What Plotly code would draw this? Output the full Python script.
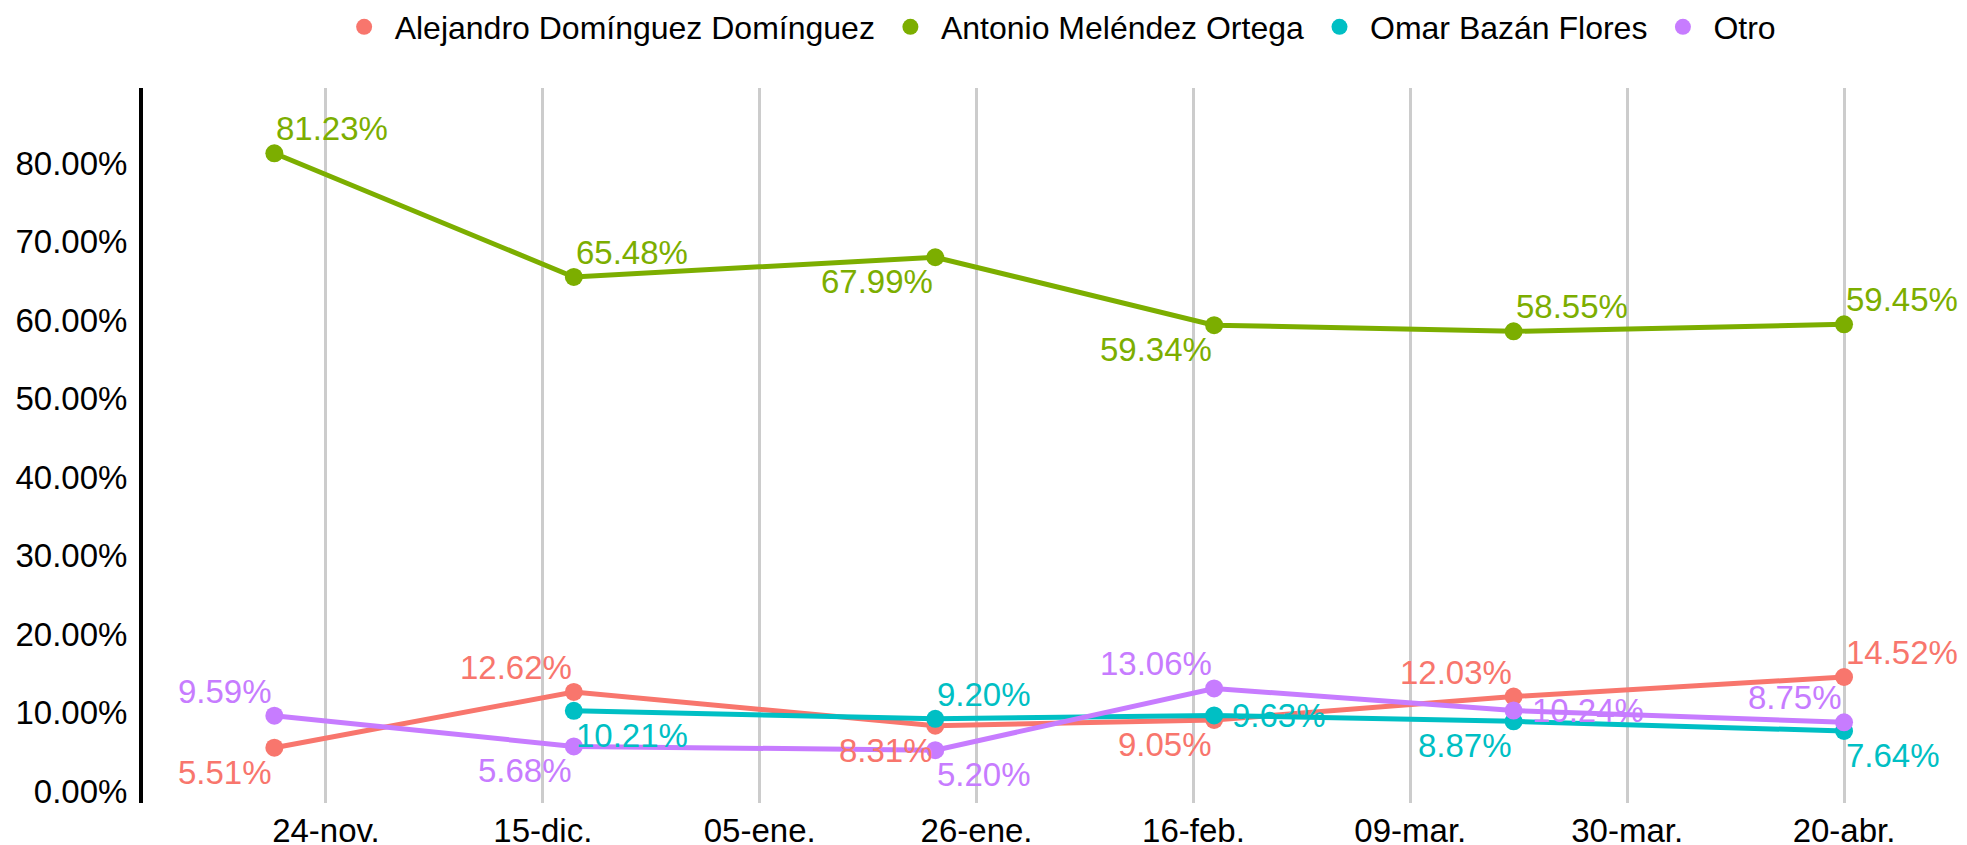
import plotly.graph_objects as go

# ---- data ----
dates = ["2022-11-19", "2022-12-18", "2023-01-22", "2023-02-18", "2023-03-19", "2023-04-20"]
series_names = ["Alejandro Domínguez Domínguez", "Antonio Meléndez Ortega", "Omar Bazán Flores", "Otro"]
alejandro = [5.51, 12.62, 8.31, 9.05, 12.03, 14.52]
antonio = [81.23, 65.48, 67.99, 59.34, 58.55, 59.45]
omar = [None, 10.21, 9.20, 9.63, 8.87, 7.64]
otro = [9.59, 5.68, 5.20, 13.06, 10.24, 8.75]
tick_dates = ["2022-11-24", "2022-12-15", "2023-01-05", "2023-01-26", "2023-02-16", "2023-03-09", "2023-03-30", "2023-04-20"]
tick_labels = ["24-nov.", "15-dic.", "05-ene.", "26-ene.", "16-feb.", "09-mar.", "30-mar.", "20-abr."]
y_tickvals = [0, 0.1, 0.2, 0.3, 0.4, 0.5, 0.6, 0.7, 0.8]

# label placement per point
positions = [
    ["bottom left", "top left", "bottom left", "bottom left", "top left", "top right"],
    ["top right", "top right", "bottom left", "bottom left", "top right", "top right"],
    ["middle right", "bottom right", "top right", "middle right", "bottom left", "bottom right"],
    ["top left", "bottom left", "bottom right", "top left", "middle right", "top left"],
]
colors = ["#F8766D", "#7CAE00", "#00BFC4", "#C77CFF"]
all_values = [alejandro, antonio, omar, otro]

FONT = "Liberation Sans, Arial, sans-serif"
LABEL_SIZE = 33

fig = go.Figure()
# lines + points
for name, vals, col in zip(series_names, all_values, colors):
    yv = [None if v is None else v / 100 for v in vals]
    fig.add_trace(go.Scatter(
        x=dates, y=yv, mode="lines+markers", name=name,
        line=dict(color=col, width=5),
        marker=dict(color=col, size=18),
        showlegend=False, hoverinfo="skip",
    ))
# legend-only entries (circle symbols, like the reference)
for name, col in zip(series_names, colors):
    fig.add_trace(go.Scatter(
        x=[None], y=[None], mode="markers", name=name,
        marker=dict(color=col, size=16), showlegend=True,
    ))

# value labels anchored at the data points
for vals, col, pos in zip(all_values, colors, positions):
    for d, v, p in zip(dates, vals, pos):
        if v is None:
            continue
        vert, horiz = p.split()
        yanchor = {"top": "bottom", "bottom": "top", "middle": "middle"}[vert]
        xanchor = {"right": "left", "left": "right"}[horiz]
        xshift = 16 if vert == "middle" else 0
        yshift = {"top": 4, "bottom": -4, "middle": 0}[vert]
        fig.add_annotation(
            x=d, y=v / 100, xref="x", yref="y", text=f"{v:.2f}%",
            showarrow=False, xanchor=xanchor, yanchor=yanchor,
            xshift=xshift, yshift=yshift,
            font=dict(color=col, size=LABEL_SIZE, family=FONT),
        )

fig.update_layout(
    width=1967, height=845,
    margin=dict(l=135, r=25, t=80, b=50, autoexpand=False),
    plot_bgcolor="white", paper_bgcolor="white",
    font=dict(family=FONT, size=32, color="black"),
    legend=dict(orientation="h", x=0.1055, xanchor="left", y=1.0853, yanchor="middle",
                font=dict(size=32, color="black"), itemwidth=51, tracegroupgap=0),
    showlegend=True,
)
fig.update_xaxes(
    type="date",
    range=["2022-11-06 06:45", "2023-04-30 06:15"],
    tickvals=tick_dates, ticktext=tick_labels,
    showgrid=True, gridcolor="#cccccc", gridwidth=3,
    showline=False, zeroline=False, ticks="", automargin=False,
    ticklabelstandoff=5,
    tickfont=dict(size=33, color="black"),
)
fig.update_yaxes(
    range=[-0.0153, 0.8955],
    tickvals=y_tickvals, tickformat=".2%",
    showgrid=False, zeroline=False,
    showline=True, linecolor="black", linewidth=4,
    ticks="", automargin=False, ticklabelstandoff=5,
    tickfont=dict(size=33, color="black"),
)

fig.write_html("out.html")
